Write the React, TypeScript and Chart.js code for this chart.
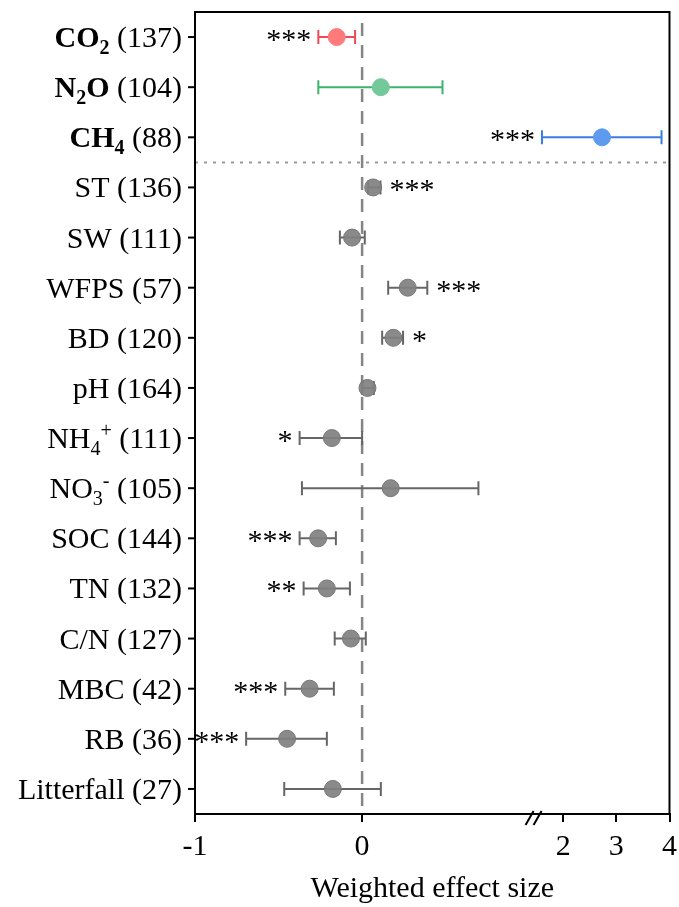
import React, { useEffect, useRef } from "react";
import { Chart, registerables } from "chart.js";

Chart.register(...registerables);

// ---------- data ----------
const names = ["CO2", "N2O", "CH4", "ST", "SW", "WFPS", "BD", "pH", "NH4+", "NO3-", "SOC", "TN", "C/N", "MBC", "RB", "Litterfall"];
const counts = [137, 104, 88, 136, 111, 57, 120, 164, 111, 105, 144, 132, 127, 42, 36, 27];
const means = [-0.152, 0.112, 2.73, 0.066, -0.06, 0.273, 0.187, 0.032, -0.181, 0.171, -0.263, -0.211, -0.067, -0.314, -0.449, -0.175];
const lows = [-0.262, -0.262, 1.6, 0.036, -0.133, 0.156, 0.12, 0.0, -0.374, -0.36, -0.374, -0.35, -0.164, -0.46, -0.694, -0.466];
const highs = [-0.042, 0.481, 3.85, 0.11, 0.016, 0.39, 0.245, 0.07, 0.0, 0.696, -0.157, -0.073, 0.022, -0.169, -0.211, 0.112];
const stars = ["***", "", "***", "***", "", "***", "*", "", "*", "", "***", "**", "", "***", "***", ""];
const boldRows = [true, true, true, false, false, false, false, false, false, false, false, false, false, false, false, false];
const xTickValues = [-1, 0, 2, 3, 4];
const xTickLabels = ["-1", "0", "2", "3", "4"];
const xTitle = "Weighted effect size";
const groupSplit = 2.5; // dotted separator between gases and drivers

// ---------- style ----------
const FONT = "'Liberation Serif', 'Times New Roman', serif";
const pointColors = ["#FF7B7B", "#74C99B", "#5E9BEE"];
const barColors = ["#EE4A58", "#3DB46E", "#3A7CE0"];
const GRAY_POINT = "rgba(128,128,128,0.92)";
const GRAY_BAR = "#666666";

// broken axis transform (value -> display coordinate)
const BREAK_AT = 1.02;
const D2 = 1.2034;
const RIGHT_K = 0.318;
const tx = (v: number) => (v <= 1.1 ? v : D2 + (v - 2) * RIGHT_K);
const X_MIN = tx(-1);
const X_MAX = tx(4);

type Seg = { text: string; kind: "n" | "sub" | "sup"; bold: boolean };

function parseLabel(name: string, count: number, bold: boolean): Seg[] {
  const segs: Seg[] = [];
  for (let i = 0; i < name.length; i++) {
    const c = name[i];
    let kind: Seg["kind"] = "n";
    if (/[0-9]/.test(c) && i > 0 && /[A-Za-z]/.test(name[i - 1])) kind = "sub";
    if ((c === "+" || c === "-") && i === name.length - 1) kind = "sup";
    const last = segs[segs.length - 1];
    if (last && last.kind === kind) last.text += c;
    else segs.push({ text: c, kind, bold });
  }
  segs.push({ text: " (" + count + ")", kind: "n", bold: false });
  return segs;
}

function segFont(s: Seg) {
  const size = s.kind === "n" ? 30 : 20;
  return `${s.bold ? "bold " : ""}${size}px ${FONT}`;
}

const overlay = {
  id: "forestOverlay",
  beforeDatasetsDraw(chart: any) {
    const { ctx, chartArea: a, scales } = chart;
    const xs = scales.x;
    const ys = scales.y;
    ctx.save();
    // zero dashed line
    ctx.strokeStyle = "#858585";
    ctx.lineWidth = 2.5;
    ctx.setLineDash([13, 9]);
    const x0 = xs.getPixelForValue(tx(0));
    ctx.beginPath();
    ctx.moveTo(x0, a.top + 11);
    ctx.lineTo(x0, a.bottom);
    ctx.stroke();
    // dotted group separator
    ctx.strokeStyle = "#9a9a9a";
    ctx.lineWidth = 2;
    ctx.setLineDash([3, 6]);
    const ySep = ys.getPixelForValue(groupSplit);
    ctx.beginPath();
    ctx.moveTo(a.left, ySep);
    ctx.lineTo(a.right, ySep);
    ctx.stroke();
    ctx.setLineDash([]);
    // error bars
    names.forEach((_, i) => {
      const y = ys.getPixelForValue(i);
      const xl = xs.getPixelForValue(tx(lows[i]));
      const xh = xs.getPixelForValue(tx(highs[i]));
      ctx.strokeStyle = i < 3 ? barColors[i] : GRAY_BAR;
      ctx.lineWidth = 2;
      ctx.beginPath();
      ctx.moveTo(xl, y);
      ctx.lineTo(xh, y);
      ctx.moveTo(xl, y - 7);
      ctx.lineTo(xl, y + 7);
      ctx.moveTo(xh, y - 7);
      ctx.lineTo(xh, y + 7);
      ctx.stroke();
    });
    ctx.restore();
  },
  afterDraw(chart: any) {
    const { ctx, chartArea: a, scales } = chart;
    const xs = scales.x;
    const ys = scales.y;
    ctx.save();
    // frame
    ctx.strokeStyle = "#000";
    ctx.lineWidth = 2;
    ctx.beginPath();
    ctx.moveTo(a.left, a.bottom);
    ctx.lineTo(a.left, a.top);
    ctx.lineTo(a.right, a.top);
    ctx.lineTo(a.right, a.bottom);
    ctx.stroke();
    // axis break marks
    const xb = xs.getPixelForValue(BREAK_AT);
    ctx.lineWidth = 2;
    ctx.beginPath();
    ctx.moveTo(xb - 7, a.bottom + 11);
    ctx.lineTo(xb + 1, a.bottom - 3);
    ctx.moveTo(xb + 1, a.bottom + 11);
    ctx.lineTo(xb + 9, a.bottom - 3);
    ctx.stroke();
    // y labels with ticks
    names.forEach((nm, i) => {
      const y = ys.getPixelForValue(i);
      ctx.strokeStyle = "#000";
      ctx.lineWidth = 2;
      ctx.beginPath();
      ctx.moveTo(a.left - 7, y);
      ctx.lineTo(a.left, y);
      ctx.stroke();
      const segs = parseLabel(nm, counts[i], boldRows[i]);
      let w = 0;
      segs.forEach((s) => {
        ctx.font = segFont(s);
        w += ctx.measureText(s.text).width;
      });
      let x = a.left - 13 - w;
      const base = y + 10;
      ctx.fillStyle = "#000";
      ctx.textAlign = "left";
      ctx.textBaseline = "alphabetic";
      segs.forEach((s) => {
        ctx.font = segFont(s);
        const dy = s.kind === "sub" ? 7 : s.kind === "sup" ? -11 : 0;
        ctx.fillText(s.text, x, base + dy);
        x += ctx.measureText(s.text).width;
      });
      // significance stars
      if (stars[i]) {
        ctx.font = `30px ${FONT}`;
        ctx.fillStyle = "#000";
        const sw = ctx.measureText(stars[i]).width;
        const xl = xs.getPixelForValue(tx(lows[i]));
        const xh = xs.getPixelForValue(tx(highs[i]));
        let left = means[i] < 0;
        if (!left && xh + 9 + sw > a.right) left = true;
        if (left) {
          ctx.textAlign = "right";
          ctx.fillText(stars[i], xl - 7, y + 12);
        } else {
          ctx.textAlign = "left";
          ctx.fillText(stars[i], xh + 9, y + 12);
        }
      }
    });
    ctx.restore();
  },
};

export default function App() {
  const ref = useRef<HTMLCanvasElement | null>(null);
  useEffect(() => {
    if (!ref.current) return;
    const chart = new Chart(ref.current, {
      type: "scatter",
      data: {
        datasets: [
          {
            data: names.map((_, i) => ({ x: tx(means[i]), y: i })),
            pointRadius: 8.5,
            pointHoverRadius: 8.5,
            pointBackgroundColor: names.map((_, i) => (i < 3 ? pointColors[i] : GRAY_POINT)),
            pointBorderColor: names.map((_, i) => (i < 3 ? pointColors[i] : "#777777")),
            pointBorderWidth: 1,
          },
        ],
      },
      options: {
        responsive: false,
        animation: false,
        devicePixelRatio: 1,
        layout: { padding: { top: 12, right: 9, left: 0, bottom: 0 } },
        plugins: { legend: { display: false }, tooltip: { enabled: false } },
        scales: {
          x: {
            type: "linear",
            min: X_MIN,
            max: X_MAX,
            afterBuildTicks: (scale: any) => {
              scale.ticks = xTickValues.map((v) => ({ value: tx(v) }));
            },
            afterFit: (scale: any) => {
              scale.height = 93;
              scale.paddingLeft = 0;
              scale.paddingRight = 0;
            },
            ticks: {
              autoSkip: false,
              maxRotation: 0,
              padding: 7,
              color: "#000",
              font: { family: FONT, size: 30 },
              callback: (_v: any, idx: number) => xTickLabels[idx],
            },
            grid: { display: true, drawOnChartArea: false, drawTicks: true, tickLength: 8, color: "#000", lineWidth: 2 },
            border: { display: true, color: "#000", width: 2 },
            title: { display: true, text: xTitle, color: "#000", font: { family: FONT, size: 30 }, padding: { top: 0, bottom: 0 } },
          },
          y: {
            type: "linear",
            min: -0.5,
            max: 15.5,
            reverse: true,
            afterFit: (scale: any) => {
              scale.width = 195;
              scale.paddingTop = 0;
              scale.paddingBottom = 0;
            },
            ticks: { display: false },
            grid: { display: false },
            border: { display: false },
          },
        },
      },
      plugins: [overlay],
    } as any);
    return () => chart.destroy();
  }, []);
  return (
    <div style={{ position: "absolute", left: 0, top: 0, width: 679, height: 907, background: "#fff" }}>
      <canvas ref={ref} width={679} height={907} style={{ display: "block" }} />
    </div>
  );
}
